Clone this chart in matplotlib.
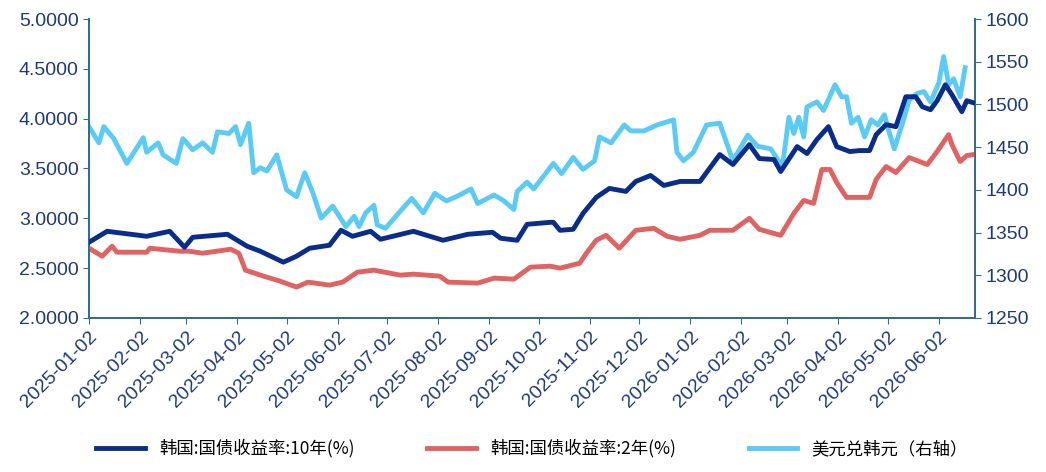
import matplotlib
matplotlib.use("Agg")
import matplotlib.pyplot as plt
import pandas as pd

plt.rcParams['font.family'] = ['Liberation Sans', 'Noto Sans CJK SC', 'DejaVu Sans']

start = pd.Timestamp("2025-01-02")
y10_days = [0,11,35,49,58,63,84,96,104,118,126,134,146,153,160,171,177,197,215,230,245,250,260,266,280,282,286,294,300,308,316,326,332,341,349,359,371,383,391,401,407,416,420,430,436,442,449,454,462,468,474,478,484,490,496,502,506,511,515,520,524,530,533,537]
y10_vals = [2.76,2.87,2.82,2.87,2.71,2.81,2.84,2.72,2.67,2.56,2.62,2.70,2.73,2.88,2.82,2.87,2.79,2.87,2.78,2.84,2.86,2.80,2.78,2.94,2.96,2.96,2.88,2.89,3.05,3.21,3.30,3.27,3.37,3.43,3.33,3.37,3.37,3.64,3.54,3.74,3.60,3.59,3.47,3.72,3.65,3.79,3.92,3.72,3.67,3.68,3.68,3.84,3.94,3.92,4.22,4.22,4.12,4.09,4.18,4.34,4.24,4.07,4.18,4.16]
y2_days = [0,8,14,17,35,37,55,61,69,86,91,95,106,116,126,133,146,154,163,173,189,197,213,218,236,246,258,268,280,286,298,302,308,314,322,332,343,351,359,371,377,391,401,407,420,428,434,440,445,450,454,460,474,478,484,490,498,509,515,522,524,529,533,537]
y2_vals = [2.70,2.62,2.72,2.66,2.66,2.70,2.67,2.67,2.65,2.69,2.65,2.48,2.42,2.37,2.31,2.36,2.33,2.36,2.46,2.48,2.43,2.44,2.42,2.36,2.35,2.40,2.39,2.51,2.52,2.50,2.55,2.65,2.78,2.83,2.70,2.88,2.90,2.82,2.79,2.83,2.88,2.88,3.00,2.89,2.83,3.05,3.18,3.15,3.49,3.49,3.36,3.21,3.21,3.39,3.52,3.46,3.61,3.54,3.67,3.84,3.74,3.57,3.63,3.64]
fx_days = [0,6,9,15,23,33,35,42,45,53,57,63,69,75,78,85,89,92,97,100,104,108,114,120,126,131,136,141,148,156,161,164,168,173,175,180,189,196,203,210,217,223,232,236,246,252,258,260,266,270,282,287,294,300,307,310,317,325,329,337,345,355,357,361,367,375,383,391,400,406,414,421,425,428,431,434,436,442,446,453,457,460,463,467,471,475,479,483,485,489,494,498,503,507,511,516,519,522,525,529,532]
fx_vals = [1474,1455,1474,1460,1431,1461,1444,1455,1441,1431,1460,1447,1455,1444,1468,1466,1474,1453,1478,1420,1426,1422,1441,1400,1392,1420,1396,1367,1381,1357,1369,1357,1373,1382,1359,1355,1375,1390,1373,1396,1387,1392,1401,1384,1394,1387,1377,1398,1409,1401,1431,1419,1438,1424,1434,1462,1455,1476,1469,1469,1476,1482,1444,1434,1444,1476,1478,1434,1464,1451,1448,1427,1485,1466,1485,1462,1497,1503,1493,1523,1509,1509,1478,1485,1462,1482,1476,1488,1473,1448,1478,1505,1513,1515,1503,1525,1556,1523,1530,1509,1543]
labels = ['韩国:国债收益率:10年(%)', '韩国:国债收益率:2年(%)', '美元兑韩元（右轴）']
tick_labels = ['2025-01-02','2025-02-02','2025-03-02','2025-04-02','2025-05-02','2025-06-02',
               '2025-07-02','2025-08-02','2025-09-02','2025-10-02','2025-11-02','2025-12-02',
               '2026-01-02','2026-02-02','2026-03-02','2026-04-02','2026-05-02','2026-06-02']
tick_dates = pd.to_datetime(tick_labels)

def d(days):
    return [start + pd.Timedelta(days=x) for x in days]

c10, c2, cfx = '#0A2D8C', '#E06262', '#5BCBF5'
axc = '#2F6F8F'
tc = '#1F3A7A'

fig = plt.figure(figsize=(10.46, 4.72), dpi=100)
ax = fig.add_axes([89/1046, 1-318/472, (975-89)/1046, (318-19)/472])
ax2 = ax.twinx()
l1, = ax.plot(d(y10_days), y10_vals, color=c10, lw=3.5, label=labels[0], zorder=3)
l2, = ax.plot(d(y2_days), y2_vals, color=c2, lw=3.5, label=labels[1], zorder=2)
l3, = ax2.plot(d(fx_days), fx_vals, color=cfx, lw=3.5, label=labels[2])
ax.set_zorder(ax2.get_zorder()+1); ax.patch.set_visible(False)

ax.set_ylim(2.0, 5.0); ax2.set_ylim(1250, 1600)
ax.set_yticks([2.0,2.5,3.0,3.5,4.0,4.5,5.0])
ax.set_yticklabels([f"{v:.4f}" for v in ax.get_yticks()])
ax2.set_yticks(range(1250, 1601, 50))
ax.set_xlim(start, start + pd.Timedelta(days=538))
ax.set_xticks(tick_dates)
ax.set_xticklabels(tick_labels, rotation=45, ha='right', rotation_mode='anchor')
for a in (ax, ax2):
    for s in a.spines.values():
        s.set_color(axc); s.set_linewidth(1.3)
    a.spines['top'].set_visible(False)
    a.tick_params(colors=axc, labelcolor=tc, labelsize=14, length=4)
ax.legend([l1, l2, l3], labels, loc='lower center', bbox_to_anchor=(0.5, -0.52), ncol=3,
          frameon=False, prop={'family': ['Noto Sans CJK SC'], 'size': 12.5},
          handlelength=2.8, columnspacing=4.2)
fig.savefig("out.png", dpi=100)
